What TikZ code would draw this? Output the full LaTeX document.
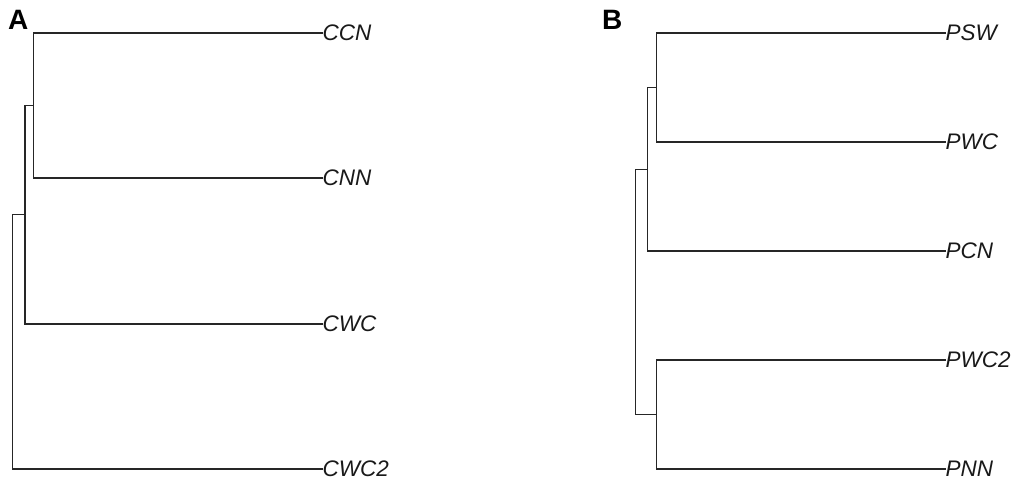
\documentclass[tikz,border=0pt]{standalone}
\usepackage{fontspec}
\setmainfont{Liberation Sans}
\begin{document}
\begin{tikzpicture}[x=1pt,y=-1pt,
  leaf/.style={anchor=west,inner sep=0pt,font=\fontsize{22.5}{26}\selectfont\itshape,text=black!90},
  panel/.style={anchor=north west,inner sep=0pt,font=\fontsize{28}{30}\selectfont\bfseries},
  branch/.style={draw=black!85,line width=1.2pt}]
\useasboundingbox (0,0) rectangle (1015,483);
% panel labels
\node[panel] (pA) at (8,10) {A};
\node[panel] (pB) at (602,10) {B};
% tree A
\node[leaf] (ccn) at (322.5,33) {CCN};
\node[leaf] (cnn) at (322.5,178) {CNN};
\node[leaf] (cwc) at (322.5,324) {CWC};
\node[leaf] (cwc2) at (322.5,469) {CWC2};
\coordinate (a1) at (33.5,105.5);
\coordinate (a2) at (25,214.75);
\coordinate (a3) at (12.5,341.9);
\draw[branch] (a1) |- (ccn.west);
\draw[branch] (a1) |- (cnn.west);
\draw[branch] (a2) |- (a1);
\draw[branch] (a2) |- (cwc.west);
\draw[branch] (a3) |- (a2);
\draw[branch] (a3) |- (cwc2.west);
% tree B
\node[leaf] (psw) at (945.5,33) {PSW};
\node[leaf] (pwc) at (945.5,142) {PWC};
\node[leaf] (pcn) at (945.5,251) {PCN};
\node[leaf] (pwc2) at (945.5,360) {PWC2};
\node[leaf] (pnn) at (945.5,469) {PNN};
\coordinate (b1) at (656.7,87.5);
\coordinate (b2) at (647.3,169.25);
\coordinate (b3) at (656.7,414.5);
\coordinate (b4) at (635.3,291.9);
\draw[branch] (b1) |- (psw.west);
\draw[branch] (b1) |- (pwc.west);
\draw[branch] (b2) |- (b1);
\draw[branch] (b2) |- (pcn.west);
\draw[branch] (b3) |- (pwc2.west);
\draw[branch] (b3) |- (pnn.west);
\draw[branch] (b4) |- (b2);
\draw[branch] (b4) |- (b3);
\end{tikzpicture}
\end{document}
